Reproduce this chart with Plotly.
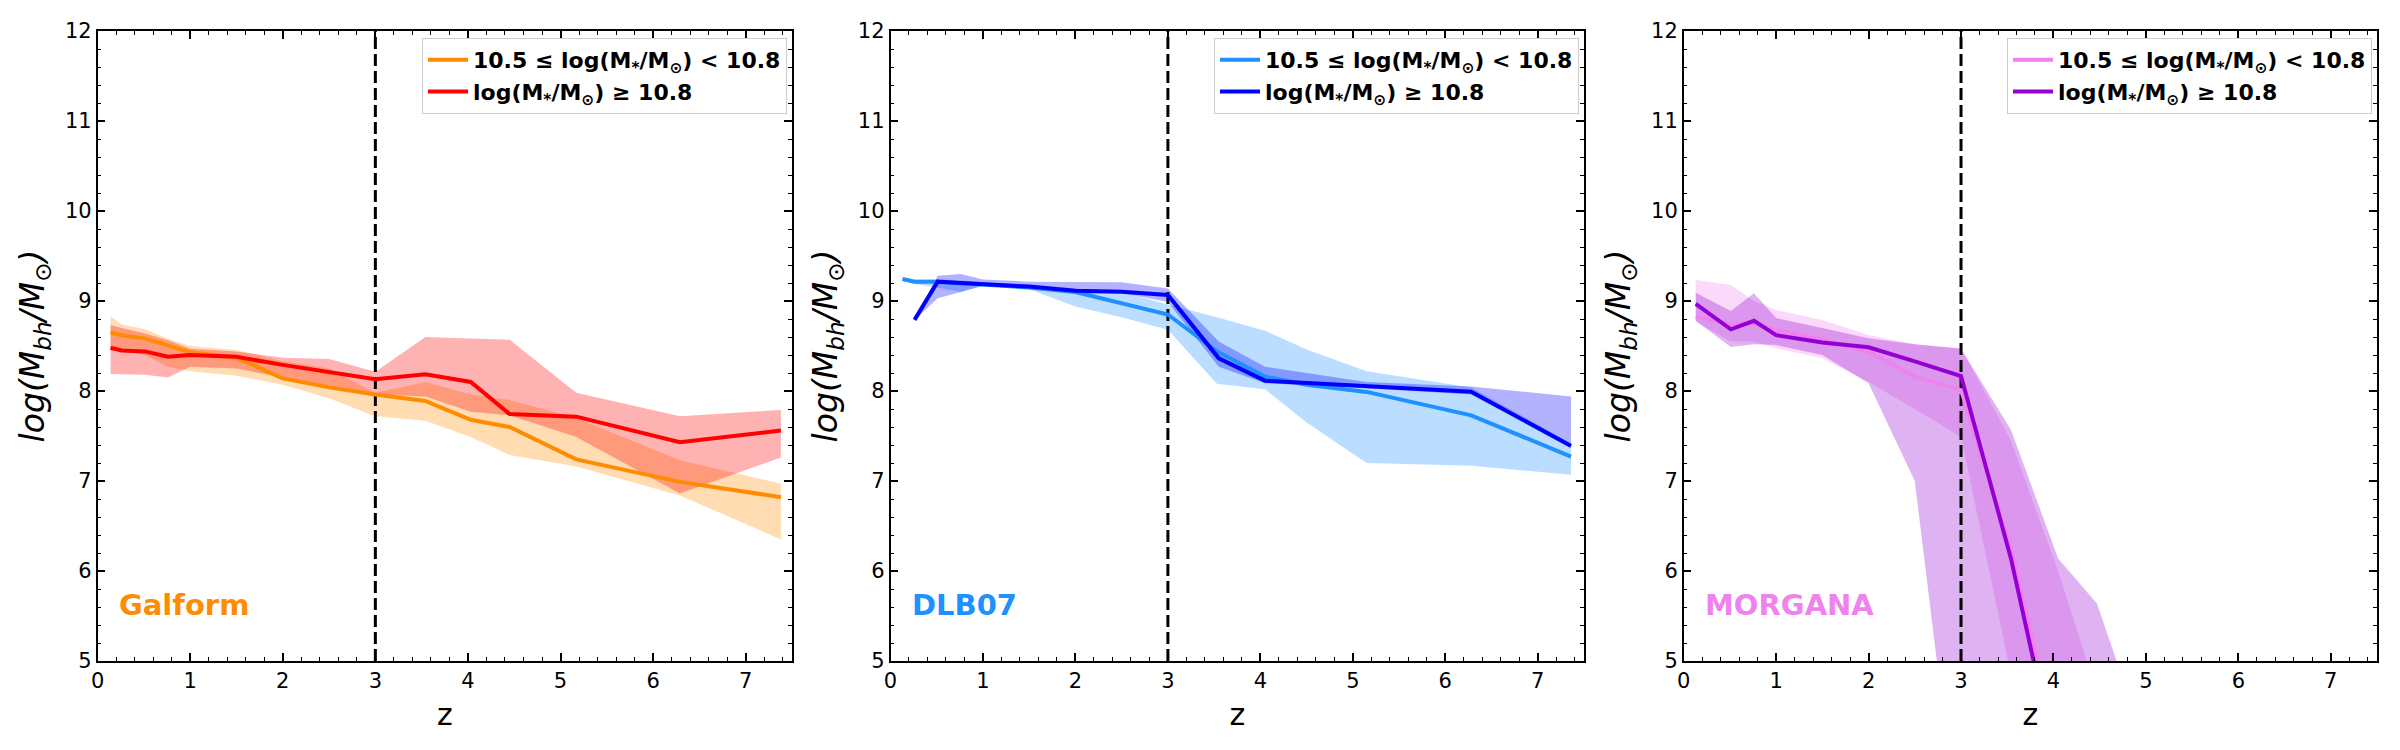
import plotly.graph_objects as go

# ---------------- data ----------------
z_cut = 3.0

# Galform
z_gal = [0.14, 0.26, 0.51, 0.76, 1.0, 1.5, 2.0, 2.5, 3.0, 3.54, 4.03, 4.45, 5.17, 6.29, 7.38]
gal_lo_med = [8.65, 8.62, 8.585, 8.51, 8.43, 8.37, 8.14, 8.04, 7.96, 7.89, 7.68, 7.60, 7.24, 6.99, 6.82]
gal_lo_up = [8.83, 8.74, 8.69, 8.58, 8.50, 8.455, 8.33, 8.25, 7.98, 8.10, 7.96, 7.90, 7.70, 7.23, 6.97]
gal_lo_dn = [8.45, 8.45, 8.40, 8.27, 8.22, 8.17, 8.07, 7.92, 7.72, 7.67, 7.49, 7.29, 7.16, 6.84, 6.35]
gal_hi_med = [8.48, 8.45, 8.44, 8.38, 8.40, 8.38, 8.29, 8.215, 8.13, 8.185, 8.10, 7.745, 7.715, 7.43, 7.56]
gal_hi_up = [8.73, 8.70, 8.64, 8.565, 8.47, 8.44, 8.37, 8.355, 8.215, 8.60, 8.58, 8.57, 7.98, 7.72, 7.79]
gal_hi_dn = [8.19, 8.185, 8.18, 8.15, 8.27, 8.25, 8.15, 8.05, 7.96, 7.94, 7.77, 7.73, 7.49, 6.86, 7.26]

# DLB07
z_dlb_lo = [0.13, 0.26, 0.51, 0.76, 1.0, 1.5, 2.0, 2.5, 3.0, 3.53, 4.05, 4.5, 5.15, 6.28, 7.36]
dlb_lo_med = [9.245, 9.215, 9.215, 9.20, 9.18, 9.15, 9.10, 8.98, 8.85, 8.44, 8.16, 8.07, 7.99, 7.73, 7.27]
dlb_lo_up = [9.26, 9.24, 9.24, 9.23, 9.21, 9.18, 9.14, 9.10, 8.96, 8.82, 8.67, 8.46, 8.22, 8.04, 7.42]
dlb_lo_dn = [9.23, 9.19, 9.15, 9.10, 9.17, 9.13, 8.94, 8.82, 8.68, 8.08, 8.02, 7.65, 7.20, 7.17, 7.07]
z_dlb_hi = [0.26, 0.51, 0.76, 1.0, 1.5, 2.0, 2.5, 3.0, 3.55, 4.05, 5.15, 6.28, 7.36]
dlb_hi_med = [8.79, 9.215, 9.20, 9.19, 9.16, 9.115, 9.104, 9.067, 8.363, 8.115, 8.056, 7.993, 7.389]
dlb_hi_up = [8.79, 9.28, 9.30, 9.24, 9.215, 9.21, 9.207, 9.14, 8.55, 8.27, 8.10, 8.05, 7.94]
dlb_hi_dn = [8.79, 9.03, 9.10, 9.17, 9.15, 9.08, 9.09, 8.99, 8.27, 8.085, 8.03, 7.96, 7.38]

# MORGANA
z_mor = [0.13, 0.51, 0.76, 1.0, 1.5, 2.0, 2.5, 3.0, 3.54, 4.05, 4.47, 5.15]
mor_lo_med = [8.826, 8.745, 8.75, 8.678, 8.57, 8.437, 8.16, 8.01, 6.25, 4.05, 2.5, 1.0]
mor_lo_up = [9.233, 9.178, 9.0, 8.9, 8.79, 8.622, 8.52, 8.474, 7.45, 6.0, 4.65, 3.0]
mor_lo_dn = [8.77, 8.55, 8.55, 8.474, 8.363, 8.10, 7.80, 7.49, 4.85, 3.0, 2.0, 1.0]
mor_hi_med = [8.967, 8.686, 8.78, 8.62, 8.54, 8.486, 8.33, 8.167, 6.14, 3.77, 2.5, 1.0]
mor_hi_up = [9.093, 8.889, 9.085, 8.81, 8.70, 8.585, 8.52, 8.47, 7.57, 6.14, 5.64, 3.6]
mor_hi_dn = [8.78, 8.49, 8.52, 8.51, 8.40, 8.085, 7.0, 2.8, 2.0, 1.5, 1.0, 1.0]

models = ["Galform", "DLB07", "MORGANA"]
label_lo = "<b>10.5 ≤ log(M<sub>*</sub>/M<sub>⊙</sub>) &lt; 10.8</b>"
label_hi = "<b>log(M<sub>*</sub>/M<sub>⊙</sub>) ≥ 10.8</b>"

x_ticks = [0, 1, 2, 3, 4, 5, 6, 7]
y_ticks = [5, 6, 7, 8, 9, 10, 11, 12]

# ---------------- styling ----------------
FONT = "DejaVu Sans"
W, H = 2400, 750
panels_px = [(97.6, 792.0), (890.5, 1584.0), (1683.7, 2377.0)]
y_dom = [(750 - 661) / 750, (750 - 31) / 750]

colors = {
    "Galform": ("#FF8C00", "#FF0000"),
    "DLB07": ("#1E90FF", "#0000FF"),
    "MORGANA": ("#EE82EE", "#9400D3"),
}

def rgba(hexc, a):
    h = hexc.lstrip("#")
    r, g, b = int(h[0:2], 16), int(h[2:4], 16), int(h[4:6], 16)
    return f"rgba({r},{g},{b},{a})"

data = {
    "Galform": [(z_gal, gal_lo_med, gal_lo_up, gal_lo_dn), (z_gal, gal_hi_med, gal_hi_up, gal_hi_dn)],
    "DLB07": [(z_dlb_lo, dlb_lo_med, dlb_lo_up, dlb_lo_dn), (z_dlb_hi, dlb_hi_med, dlb_hi_up, dlb_hi_dn)],
    "MORGANA": [(z_mor, mor_lo_med, mor_lo_up, mor_lo_dn), (z_mor, mor_hi_med, mor_hi_up, mor_hi_dn)],
}

fig = go.Figure()
layout = dict(
    width=W, height=H,
    margin=dict(l=0, r=0, t=0, b=0, autoexpand=False),
    paper_bgcolor="white", plot_bgcolor="white",
    font=dict(family=FONT, color="black"),
    showlegend=True,
)

for i, m in enumerate(models):
    sfx = "" if i == 0 else str(i + 1)
    xa, ya = "x" + sfx, "y" + sfx
    leg = "legend" + sfx
    c_lo, c_hi = colors[m]
    # bands
    for (zz, med, up, dn), c in zip(data[m], (c_lo, c_hi)):
        fig.add_trace(go.Scatter(
            x=list(zz) + list(zz)[::-1], y=list(up) + list(dn)[::-1],
            fill="toself", fillcolor=rgba(c, 0.3), line=dict(width=0),
            mode="lines", hoverinfo="skip", showlegend=False, xaxis=xa, yaxis=ya))
    # dashed line
    fig.add_trace(go.Scatter(
        x=[z_cut, z_cut], y=[y_ticks[0], y_ticks[-1]], mode="lines",
        line=dict(color="black", width=3, dash="12px,5px"),
        showlegend=False, hoverinfo="skip", xaxis=xa, yaxis=ya))
    # medians
    for (zz, med, up, dn), c, lab in zip(data[m], (c_lo, c_hi), (label_lo, label_hi)):
        fig.add_trace(go.Scatter(
            x=zz, y=med, mode="lines", line=dict(color=c, width=4),
            name=lab, legend=leg, xaxis=xa, yaxis=ya))

    x0, x1 = panels_px[i]
    axis_common = dict(
        showline=True, linecolor="black", linewidth=1.5, mirror="allticks",
        ticks="inside", ticklen=8, tickwidth=1.5, tickcolor="black",
        showgrid=False, zeroline=False, automargin=False,
        tickfont=dict(family=FONT, size=21, color="black"),
        minor=dict(ticks="inside", ticklen=4, tickwidth=1.2, tickcolor="black", dtick=0.2, showgrid=False),
    )
    layout["xaxis" + sfx] = dict(
        axis_common, domain=[x0 / W, x1 / W], range=[0, 7.5],
        tickvals=x_ticks, anchor=ya,
        title=dict(text="z", font=dict(family=FONT, size=30), standoff=12),
    )
    layout["yaxis" + sfx] = dict(
        axis_common, domain=y_dom, range=[5, 12],
        tickvals=y_ticks, anchor=xa,
        title=dict(text="<i>log(M<sub>bh</sub>/M<sub>⊙</sub>)</i>", font=dict(family=FONT, size=33), standoff=10),
    )
    layout[leg] = dict(
        x=(x1 - 5) / W, xanchor="right", y=(750 - 38) / 750, yanchor="top",
        bgcolor="rgba(255,255,255,0.8)", bordercolor="#cccccc", borderwidth=1,
        font=dict(family=FONT, size=22, color="black"),
        tracegroupgap=0, itemwidth=40,
    )
    fig.add_annotation(
        x=0.21, y=5.62, xref=xa, yref=ya, text=f"<b>{m}</b>", showarrow=False,
        xanchor="left", yanchor="middle",
        font=dict(family=FONT, size=29, color=c_lo))

fig.update_layout(**layout)
fig.write_html("out.html")
